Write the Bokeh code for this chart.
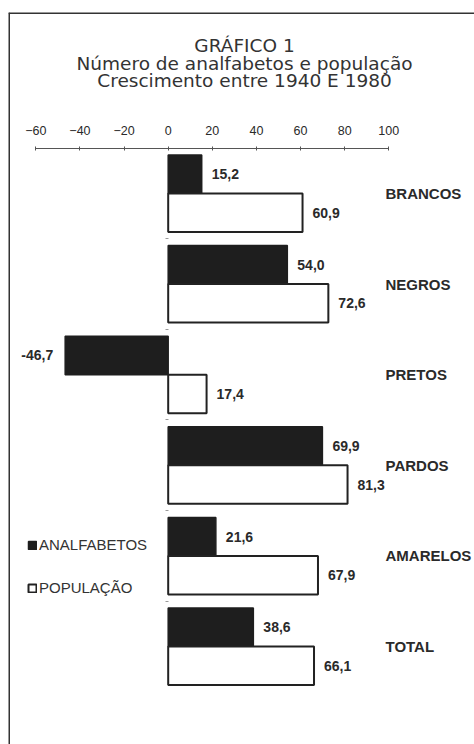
from bokeh.plotting import figure
from bokeh.models import (Range1d, LinearAxis, FixedTicker, Legend, LegendItem,
                          Label, ColumnDataSource, Span)
from bokeh.core.properties import value
from bokeh.embed import file_html
from bokeh.resources import INLINE

categories = ["BRANCOS", "NEGROS", "PRETOS", "PARDOS", "AMARELOS", "TOTAL"]
analfabetos = [15.2, 54.0, -46.7, 69.9, 21.6, 38.6]
populacao = [60.9, 72.6, 17.4, 81.3, 67.9, 66.1]
x_ticks = [-60, -40, -20, 0, 20, 40, 60, 80, 100]
title_lines = ["GRÁFICO 1", "Número de analfabetos e população",
               "Crescimento entre 1940 E 1980"]
legend_labels = ["ANALFABETOS", "POPULAÇÃO"]


def fmt(v):
    return f"{v:.1f}".replace(".", ",")


n = len(categories)
idx = list(range(n))
bar_h = 0.425
dark_y = [i - bar_h / 2 for i in idx]
white_y = [i + bar_h / 2 for i in idx]

FONT = "Liberation Sans"

xr = Range1d(-72.39, 138.85)
yr = Range1d(6.082, -1.998)
p = figure(width=474, height=744, output_backend="svg", toolbar_location=None,
           x_range=xr, y_range=yr,
           x_axis_location=None, y_axis_location=None,
           min_border_left=8, min_border_top=12, min_border_right=0, min_border_bottom=0)
p.xgrid.visible = False
p.ygrid.visible = False
p.outline_line_color = None
p.background_fill_color = "white"
p.border_fill_color = "white"

# page border: only left and top edges are visible in the scan
p.add_layout(Span(location=xr.start, dimension="height", line_color="#333333", line_width=3))
p.add_layout(Span(location=yr.end, dimension="width", line_color="#333333", line_width=3))

# bars
src_a = ColumnDataSource(dict(y=dark_y, right=analfabetos))
src_p = ColumnDataSource(dict(y=white_y, right=populacao))
r_a = p.hbar(y="y", right="right", left=0, height=bar_h, source=src_a,
             fill_color="#1e1e1e", line_color="#1e1e1e", line_width=1.5)
r_p = p.hbar(y="y", right="right", left=0, height=bar_h, source=src_p,
             fill_color="white", line_color="#222222", line_width=2)

# value labels
vals = analfabetos + populacao
ys = dark_y + white_y
lab_src = ColumnDataSource(dict(
    x=vals, y=ys, text=[fmt(v) for v in vals],
    off=[10 if v >= 0 else -12 for v in vals],
    align=["left" if v >= 0 else "right" for v in vals]))
p.text(x="x", y="y", text="text", x_offset="off", text_align="align",
       text_baseline="middle", source=lab_src, text_font=value(FONT),
       text_font_style="bold", text_font_size="14px", text_color="#2a2a2a")

# category labels
label_x = 98.5
p.text(x=[label_x] * n, y=idx, text=categories, text_baseline="middle",
       text_align="left", text_font=value(FONT), text_font_style="bold",
       text_font_size="15px", text_color="#2a2a2a")

# top axis inside the frame
xax = LinearAxis(fixed_location=-0.5, ticker=FixedTicker(ticks=x_ticks),
                 bounds=(min(x_ticks), max(x_ticks)))
xax.axis_line_color = "#555555"
xax.axis_line_width = 1
xax.major_tick_line_color = "#555555"
xax.major_tick_in = 2
xax.major_tick_out = 2
xax.minor_tick_line_color = None
xax.major_label_standoff = 11
xax.major_label_text_font = FONT
xax.major_label_text_font_size = "12.5px"
xax.major_label_text_color = "#2a2a2a"
p.add_layout(xax, "above")

# small separator ticks at zero
yax = LinearAxis(fixed_location=0, ticker=FixedTicker(ticks=[i + 0.5 for i in idx[:-1]]))
yax.axis_line_color = None
yax.major_tick_line_color = "#999999"
yax.major_tick_in = 0
yax.major_tick_out = 3
yax.minor_tick_line_color = None
yax.major_label_text_color = None
p.add_layout(yax, "left")

# legend
legend = Legend(items=[LegendItem(label=legend_labels[0], renderers=[r_a]),
                       LegendItem(label=legend_labels[1], renderers=[r_p])],
                location=(19, 148), orientation="vertical")
legend.label_text_font = FONT
legend.label_text_font_size = "15px"
legend.label_text_color = "#333333"
legend.glyph_width = 10
legend.glyph_height = 10
legend.label_standoff = 2
legend.spacing = 26
legend.padding = 0
legend.margin = 0
legend.border_line_color = None
legend.background_fill_alpha = 0
p.add_layout(legend)

# title
title_y = [699, 681, 664]
for t, ty in zip(title_lines, title_y):
    p.add_layout(Label(x=236, y=ty, x_units="screen", y_units="screen", text=t,
                       text_align="center", text_baseline="middle",
                       text_font="DejaVu Sans", text_font_size="18.5px",
                       text_color="#333333"))

open("out.html", "w").write(file_html(p, INLINE))
